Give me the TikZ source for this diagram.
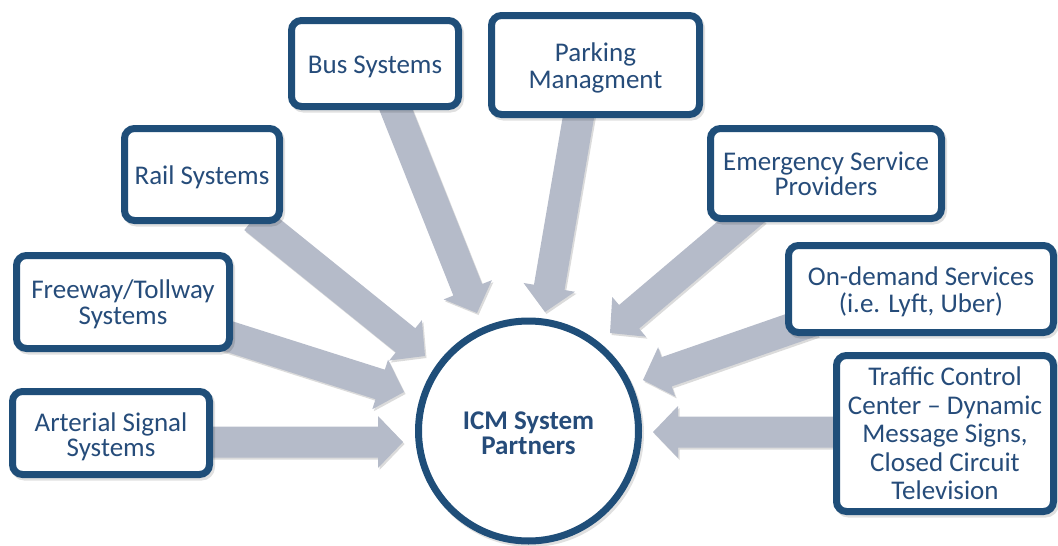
\documentclass[tikz,border=0pt]{standalone}
\usepackage{fontspec}
\setmainfont{Carlito}
\usetikzlibrary{calc}
\definecolor{bordblue}{RGB}{31,78,121}
\definecolor{txtblue}{RGB}{38,76,122}
\definecolor{arrgray}{RGB}{181,187,201}
\newcommand\blkshape{(0,0) -- (-25,26) -- (-25,15.5) -- (-\blklen,15.5) -- (-\blklen,-15.5) -- (-25,-15.5) -- (-25,-26) -- cycle}
\newcommand\blkarrow[2]{%
  \path let \p1=(#1), \p2=(#2), \n1={atan2(\y2-\y1,\x2-\x1)}, \n2={veclen(\x2-\x1,\y2-\y1)} in
    \pgfextra{\xdef\blkang{\n1}\xdef\blklen{\n2}};
  \begin{scope}[shift={($(#2)+(1.5,2)$)}, rotate=\blkang, x=1pt, y=1pt]
    \fill[black, opacity=0.14] \blkshape;
  \end{scope}
  \begin{scope}[shift={(#2)}, rotate=\blkang, x=1pt, y=1pt]
    \fill[arrgray] \blkshape;
  \end{scope}}
\tikzset{
  boxshadow/.style={preaction={fill=black, draw=black, line width=7pt, opacity=0.12,
      transform canvas={shift={(2pt,-2.5pt)}}}},
  box/.style={draw=bordblue, line width=7pt, rounded corners=10pt, fill=white, inner sep=0pt, boxshadow},
  txt/.style={align=center, text=txtblue, inner sep=0pt, font=\fontsize{27}{#1}\selectfont},
  btxt/.style={align=center, text=txtblue, inner sep=0pt, font=\fontsize{27}{#1}\selectfont\bfseries}
}
\begin{document}
\begin{tikzpicture}[x=1pt, y=-1pt]
\useasboundingbox (0,0) rectangle (1058,546);
% arrow end points
\coordinate (art-s) at (200,442);  \coordinate (art-t) at (403,442);
\coordinate (fwy-s) at (215,332);  \coordinate (fwy-t) at (404,392);
\coordinate (rail-s) at (254,218); \coordinate (rail-t) at (425,356);
\coordinate (bus-s) at (392,100);  \coordinate (bus-t) at (477,313);
\coordinate (park-s) at (580,108); \coordinate (park-t) at (545,312);
\coordinate (emg-s) at (755,210);  \coordinate (emg-t) at (610,333);
\coordinate (ond-s) at (813,321);  \coordinate (ond-t) at (643,380);
\coordinate (tcc-s) at (850,432);  \coordinate (tcc-t) at (653,432);
% arrows
\blkarrow{art-s}{art-t}
\blkarrow{fwy-s}{fwy-t}
\blkarrow{rail-s}{rail-t}
\blkarrow{bus-s}{bus-t}
\blkarrow{park-s}{park-t}
\blkarrow{emg-s}{emg-t}
\blkarrow{ond-s}{ond-t}
\blkarrow{tcc-s}{tcc-t}
% boxes
\node[box, minimum width=197pt, minimum height=83pt] (art) at (111,433) {};
\node[box, minimum width=213pt, minimum height=93pt] (fwy) at (123,302) {};
\node[box, minimum width=155pt, minimum height=92pt] (rail) at (202,174.5) {};
\node[box, minimum width=167pt, minimum height=86pt] (bus) at (375,63.5) {};
\node[box, minimum width=208pt, minimum height=99pt] (park) at (595.5,65) {};
\node[box, minimum width=231pt, minimum height=90pt] (emg) at (826,173.5) {};
\node[box, minimum width=265pt, minimum height=87pt] (ond) at (921,289) {};
\node[box, minimum width=217pt, minimum height=156pt] (tcc) at (945,433.5) {};
% labels
\node[txt=25] (art-l) at ($(art)+(0,3.5)$) {Arterial Signal\\Systems};
\node[txt=26] (fwy-l) at ($(fwy)+(0,2.5)$) {Freeway/Tollway\\Systems};
\node[txt=26] (rail-l) at ($(rail)+(0,3)$) {Rail Systems};
\node[txt=26] (bus-l) at ($(bus)+(0,3.5)$) {Bus Systems};
\node[txt=27] (park-l) at ($(park)+(0,3)$) {Parking\\Managment};
\node[txt=25] (emg-l) at ($(emg)+(0,0.5)$) {Emergency Service\\Providers};
\node[txt=27] (ond-l) at ($(ond)+(0,3)$) {On-demand Services\\(i.e. Lyft, Uber)};
\node[txt=28.5] (tcc-l) at (tcc) {Traffic Control\\Center – Dynamic\\Message Signs,\\Closed Circuit\\Television};
% centre
\node[circle, draw=bordblue, line width=7pt, fill=white, boxshadow, minimum size=220pt, inner sep=0pt] (icm) at (528.5,431) {};
\node[btxt=25] (icm-l) at ($(icm)+(0,2)$) {ICM System\\Partners};
\end{tikzpicture}
\end{document}
